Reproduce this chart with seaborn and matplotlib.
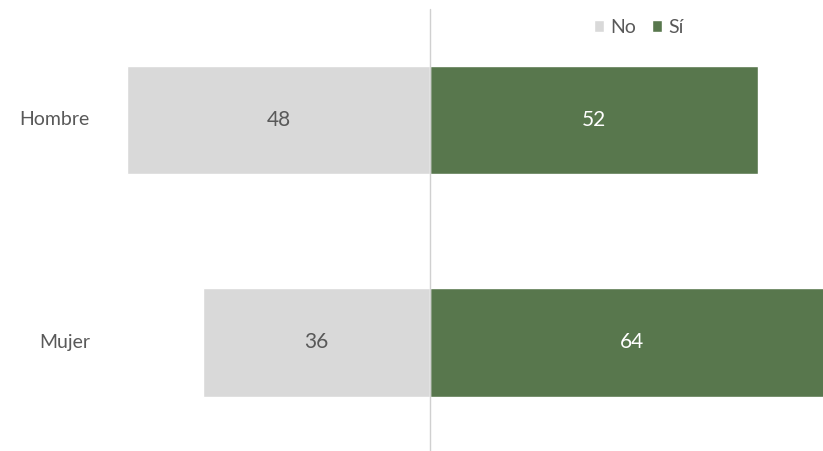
import numpy as np
import pandas as pd
import matplotlib.pyplot as plt
import seaborn as sns

categories = ["Hombre", "Mujer"]
no_vals = [48, 36]
si_vals = [52, 64]

sns.set_theme(style="white")
plt.rcParams["font.family"] = ["Lato", "DejaVu Sans"]

df = pd.DataFrame({"cat": categories, "No": no_vals, "Sí": si_vals})
df["No_neg"] = -df["No"]

fig = plt.figure(figsize=(8.23, 4.51), dpi=100)
ax = fig.add_axes([100 / 823, 0.0, 1 - 100 / 823, 1.0])

grey = "#d9d9d9"
green = "#58774d"
sns.barplot(data=df, y="cat", x="No_neg", color=grey, width=0.49, ax=ax,
            orient="h", label="No", saturation=1)
sns.barplot(data=df, y="cat", x="Sí", color=green, width=0.49, ax=ax,
            orient="h", label="Sí", saturation=1)

ax.set_xlim(-52.3, 62.3)
ax.set_ylim(1.49, -0.54)
ax.axvline(0, ymin=0.0, ymax=0.98, color="#d0d0d0", lw=1)

for i, (n, s) in enumerate(zip(no_vals, si_vals)):
    ax.text(-n / 2, i, f"{n}", ha="center", va="center", fontsize=15,
            color="#595959")
    ax.text(s / 2, i, f"{s}", ha="center", va="center", fontsize=15,
            color="white")

ax.set_xlabel(""); ax.set_ylabel("")
ax.set_xticks([])
ax.set_yticks([])
for i, c in enumerate(categories):
    ax.text(-52.3 - 1.6, i, c, ha="right", va="center", fontsize=14,
            color="#595959", clip_on=False)
sns.despine(ax=ax, left=True, bottom=True)

leg = ax.legend(loc="center", bbox_to_anchor=(0.745, 0.94), ncol=2,
                frameon=False, fontsize=14, handlelength=0.55, handleheight=0.55,
                handletextpad=0.3, columnspacing=0.8)
for t in leg.get_texts():
    t.set_color("#595959")

fig.savefig("out.png", dpi=100)
